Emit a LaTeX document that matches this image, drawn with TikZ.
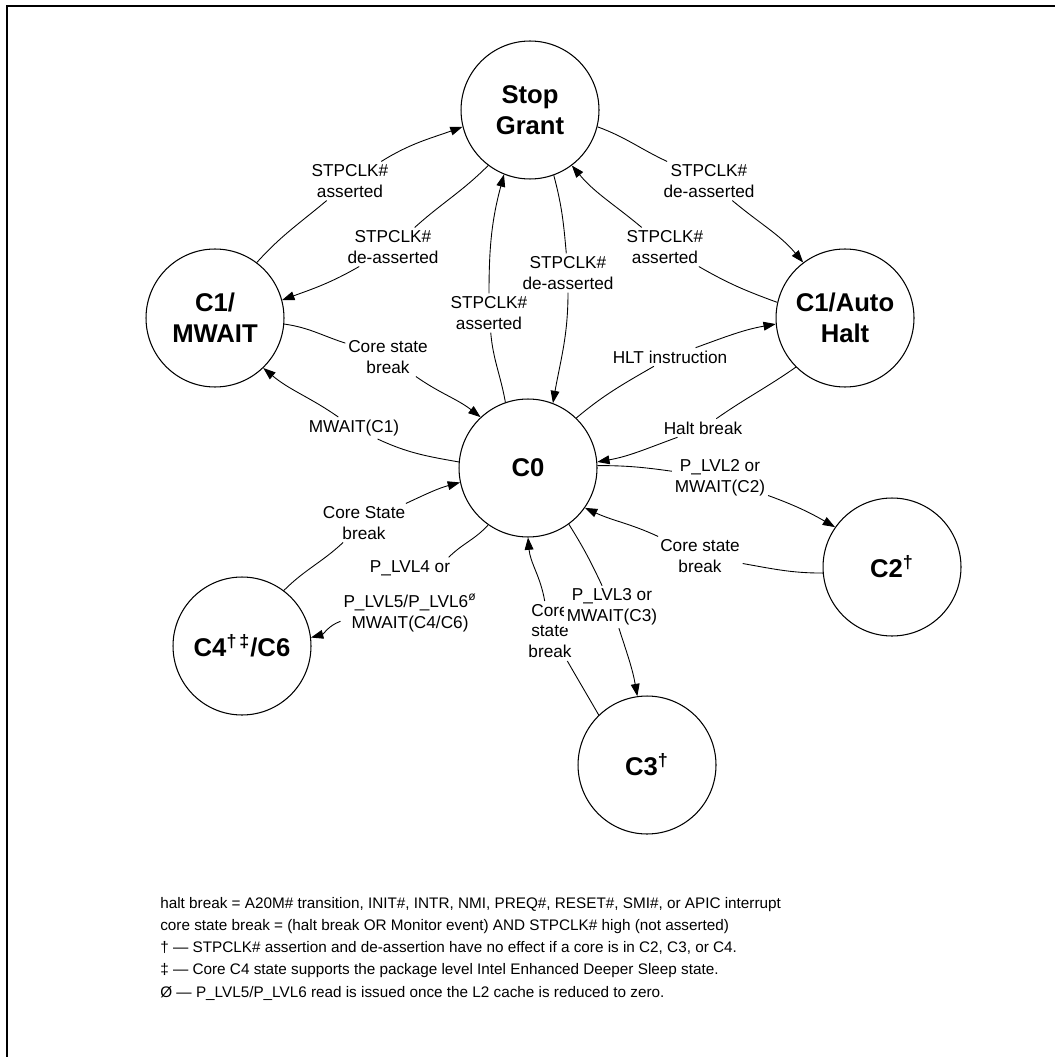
\documentclass[tikz,border=0pt]{standalone}
\usepackage{fontspec}
\setmainfont{Liberation Sans}
\usetikzlibrary{arrows.meta}

\tikzset{
    state/.style={circle, draw, line width=0.6pt, minimum size=2.76cm, inner sep=0pt, align=center, font=\fontsize{14.6}{17.6}\selectfont\bfseries},
    lbl/.style={align=center, inner sep=1.5pt, fill=white, font=\fontsize{9.8}{11.9}\selectfont},
    note/.style={inner sep=0pt, anchor=base west, font=\fontsize{8.7}{10}\selectfont},
    trans/.style={line width=0.5pt},
    >={Triangle[length=7pt, width=5pt]}
}

\begin{document}
\begin{tikzpicture}[x=0.02cm, y=-0.02cm]
    % Page and frame
    \useasboundingbox (0,0) rectangle (1055,1057);
    \draw[line width=1pt] (7,1057) -- (7,6) -- (1055,6);
    %%%
    %%% States
    %%%
    \node[state] (sg) at (530,110) {Stop\\Grant};
    \node[state] (c1) at (215,318) {C1/\\MWAIT};
    \node[state] (ah) at (845,318) {C1/Auto\\Halt};
    \node[state] (c0) at (528,468) {C0};
    \node[state] (c2) at (892,567) {C2\textsuperscript{†}};
    \node[state] (c3) at (647,765) {C3\textsuperscript{†}};
    \node[state] (c4) at (242,646) {C4\textsuperscript{†\,‡}/C6};
    %%%
    %%% Transition labels
    %%%
    \node[lbl] (c1sg) at (350,181) {STPCLK\#\\asserted};
    \node[lbl] (sgc1) at (393,247) {STPCLK\#\\de-asserted};
    \node[lbl] (c0sg) at (489,313) {STPCLK\#\\asserted};
    \node[lbl] (sgc0) at (568,273) {STPCLK\#\\de-asserted};
    \node[lbl] (sgah) at (709,181) {STPCLK\#\\de-asserted};
    \node[lbl] (ahsg) at (665,247) {STPCLK\#\\asserted};
    \node[lbl] (c1c0) at (388,357) {Core state\\break};
    \node[lbl] (c0c1) at (354,428) {MWAIT(C1)};
    \node[lbl] (c0ah) at (670,357) {HLT instruction};
    \node[lbl] (ahc0) at (703,428) {Halt break};
    \node[lbl] (c0c2) at (720,478) {P\_LVL2 or\\MWAIT(C2)};
    \node[lbl] (c2c0) at (700,556) {Core state\\break};
    \node[lbl] (c3c0) at (550,631) {Core\\state\\break};
    \node[lbl] (c0c3) at (612,607) {P\_LVL3 or\\MWAIT(C3)};
    \node[lbl] (c4c0) at (364,523) {Core State\\break};
    \node[lbl] (c0c4) at (410,596) {P\_LVL4 or\\[8pt]P\_LVL5/P\_LVL6\textsuperscript{ø}\\MWAIT(C4/C6)};
    %%%
    %%% Transitions
    %%%
    % C1/MWAIT <-> Stop Grant
    \draw[trans] (c1.53) to[out=48, in=220] (c1sg);
    \draw[trans, ->] (c1sg) to[out=32, in=200] (sg.194);
    \draw[trans] (sg.233) to[out=225, in=42] (sgc1);
    \draw[trans, ->] (sgc1) to[out=210, in=20] (c1.15);
    % C0 <-> Stop Grant
    \draw[trans] (c0.109) to[out=100, in=-85] (c0sg);
    \draw[trans, ->] (c0sg) to[out=90, in=-105] (sg.248);
    \draw[trans] (sg.290) to[out=-75, in=95] (sgc0);
    \draw[trans, ->] (sgc0) to[out=-90, in=80] (c0.69);
    % Stop Grant <-> C1/Auto Halt
    \draw[trans] (sg.346) to[out=-20, in=155] (sgah);
    \draw[trans, ->] (sgah) to[out=-40, in=130] (ah.127);
    \draw[trans] (ah.167) to[out=160, in=-30] (ahsg);
    \draw[trans, ->] (ahsg) to[out=140, in=-50] (sg.307);
    % C1/MWAIT <-> C0
    \draw[trans] (c1.355) to[out=-8, in=162] (c1c0);
    \draw[trans, ->] (c1c0) to[out=-35, in=142] (c0.133);
    \draw[trans] (c0.175) to[out=170, in=-25] (c0c1);
    \draw[trans, ->] (c0c1) to[out=145, in=-40] (c1.314);
    % C0 <-> C1/Auto Halt
    \draw[trans] (c0.46) to[out=40, in=210] (c0ah);
    \draw[trans, ->] (c0ah) to[out=20, in=190] (ah.185);
    \draw[trans] (ah.225) to[out=215, in=35] (ahc0);
    \draw[trans, ->] (ahc0) to[out=200, in=10] (c0.5);
    % C0 <-> C2
    \draw[trans] (c0.2) to[out=0, in=172] (c0c2);
    \draw[trans, ->] (c0c2) to[out=-20, in=150] (c2.145);
    \draw[trans] (c2.185) to[out=180, in=-10] (c2c0);
    \draw[trans, ->] (c2c0) to[out=155, in=-25] (c0.325);
    % C0 <-> C3
    \draw[trans] (c0.306) to[out=-58, in=115] (c0c3);
    \draw[trans, ->] (c0c3) to[out=-72, in=100] (c3.98);
    \draw[trans] (c3.134) to[out=120, in=-60] (c3c0);
    \draw[trans, ->] (c3c0) to[out=100, in=-85] (c0.270);
    % C0 <-> C4/C6
    \draw[trans] (c4.53) to[out=45, in=223] (c4c0);
    \draw[trans, ->] (c4c0) to[out=25, in=195] (c0.192);
    \draw[trans] (c0.235) to[out=228, in=45] (c0c4);
    \draw[trans, ->] (c0c4) to[out=200, in=15] (c4.7);
    %%%
    %%% Notes
    %%%
    \foreach \y/\txt [count=\i] in {
        908/{halt break = A20M\# transition, INIT\#, INTR, NMI, PREQ\#, RESET\#, SMI\#, or APIC interrupt},
        930/{core state break = (halt break OR Monitor event) AND STPCLK\# high (not asserted)},
        952/{† — STPCLK\# assertion and de-assertion have no effect if a core is in C2, C3, or C4.},
        974/{‡ — Core C4 state supports the package level Intel Enhanced Deeper Sleep state.},
        997/{Ø — P\_LVL5/P\_LVL6 read is issued once the L2 cache is reduced to zero.}}
    {
        \node[note] (note\i) at (160,\y) {\txt};
    }
\end{tikzpicture}
\end{document}
